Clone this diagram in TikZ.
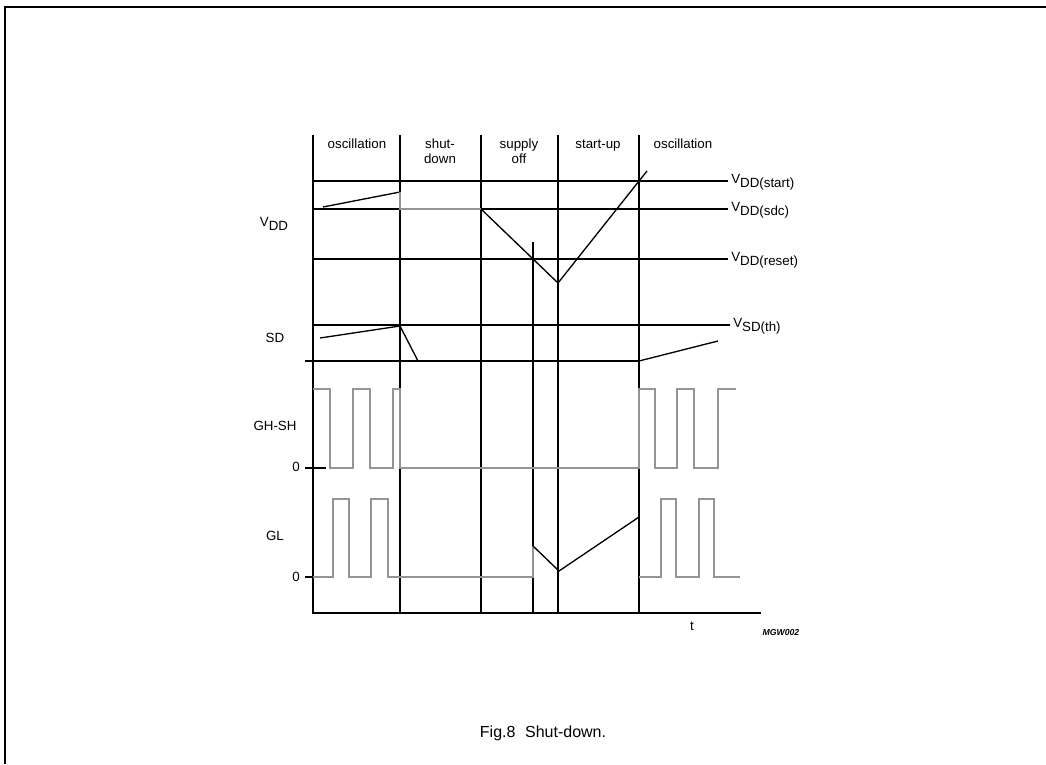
\documentclass[tikz,border=0pt]{standalone}
\usepackage{fontspec}
\setmainfont{Liberation Sans}
\newcommand\lowsub[1]{\raisebox{-0.55ex}{#1}}
\begin{document}
\begin{tikzpicture}[x=0.75pt,y=-0.75pt,
  grid/.style={line width=1pt},
  wave/.style={line width=1.2pt,draw=black!42},
  dark/.style={line width=1pt},
  lbl/.style={font=\fontsize{10}{12}\selectfont,inner sep=0pt},
  hd/.style={font=\fontsize{10}{12}\selectfont,inner sep=0pt,anchor=base}]
\useasboundingbox (0,0) rectangle (1046,764);
% frame
\draw[line width=1.5pt] (5,764) -- (5,7) -- (1046,7);
% grid verticals
\draw[grid] (313,135) -- (313,613) -- (761,613);
\draw[grid] (400,135) -- (400,388);
\draw[grid] (400,468) -- (400,613);
\draw[grid] (481,135) -- (481,613);
\draw[grid] (533,242) -- (533,613);
\draw[grid] (558,135) -- (558,613);
\draw[grid] (639,135) -- (639,389);
\draw[grid] (639,468) -- (639,613);
% grid horizontals
\draw[grid] (313,181) -- (728,181);
\draw[grid] (313,209) -- (728,209);
\draw[grid] (313,259) -- (728,259);
\draw[grid] (313,325) -- (730,325);
\draw[grid] (305,361) -- (639,361);
% zero ticks
\draw[grid] (305,468) -- (326,468);
\draw[grid] (305,577) -- (313,577);
% VDD
\draw[dark] (323,207) -- (400,192);
\draw[wave] (400,192) -- (400,209) -- (481,209);
\draw[dark] (481,209) -- (558,283) -- (647,171);
% SD
\draw[dark] (320,338) -- (400,326) -- (418,361);
\draw[dark] (639,361) -- (718,341);
% GH-SH
\draw[wave] (313,389) -- (330,389) -- (330,468) -- (353,468) -- (353,389) -- (370,389) -- (370,468) -- (393,468) -- (393,389) -- (400,389) -- (400,468) -- (639,468) -- (639,389) -- (655,389) -- (655,468) -- (677,468) -- (677,389) -- (694,389) -- (694,468) -- (718,468) -- (718,389) -- (736,389);
% GL
\draw[wave] (313,577) -- (333,577) -- (333,499) -- (349,499) -- (349,577) -- (371,577) -- (371,499) -- (388,499) -- (388,577) -- (533,577) -- (533,546);
\draw[dark] (533,546) -- (559,571) -- (639,517);
\draw[wave] (639,577) -- (661,577) -- (661,499) -- (676,499) -- (676,577) -- (699,577) -- (699,499) -- (714,499) -- (714,577) -- (740,577);
% header labels
\node[hd] (h1) at (357,148) {oscillation};
\node[hd] (h2a) at (440,148) {shut-};
\node[hd] (h2b) at (440,163) {down};
\node[hd] (h3a) at (519,148) {supply};
\node[hd] (h3b) at (519,163) {off};
\node[hd] (h4) at (598,148) {start-up};
\node[hd] (h5) at (683,148) {oscillation};
% right labels
\node[lbl,anchor=west] (vstart) at (731,182) {V\lowsub{DD(start)}};
\node[lbl,anchor=west] (vsdc) at (731,210) {V\lowsub{DD(sdc)}};
\node[lbl,anchor=west] (vreset) at (731,260) {V\lowsub{DD(reset)}};
\node[lbl,anchor=west] (vsdth) at (733,326) {V\lowsub{SD(th)}};
% left labels
\node[lbl] (lvdd) at (274,224) {V\lowsub{DD}};
\node[lbl] (lsd) at (275,338) {SD};
\node[lbl] (lgh) at (275,426) {GH-SH};
\node[lbl] (lgl) at (275,536) {GL};
\node[lbl] (z1) at (296,467) {0};
\node[lbl] (z2) at (296,577) {0};
% axis labels
\node[lbl] (tl) at (692,626) {t};
\node[inner sep=0pt,font=\fontsize{6.5}{8}\selectfont\itshape\bfseries] (code) at (781,633) {MGW002};
% caption
\node[inner sep=0pt,font=\fontsize{12}{14}\selectfont] (cap) at (543,733) {Fig.8\hspace{0.6em}Shut-down.};
\end{tikzpicture}
\end{document}
